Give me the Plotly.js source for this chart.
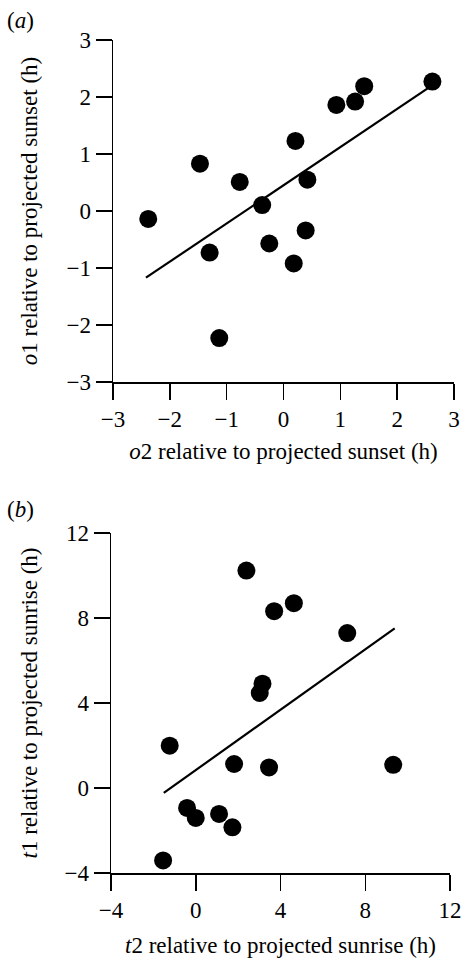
<!DOCTYPE html>
<html>
<head>
<meta charset="utf-8">
<script src="https://cdn.plot.ly/plotly-3.0.1.min.js"></script>
<style>html,body{margin:0;padding:0;background:#fff;}#chart{width:462px;height:958px;}</style>
</head>
<body>
<div id="chart"></div>
<script>
// Panel (a): sunset
const o2 = [-2.38, -1.47, -1.30, -1.13, -0.77, -0.375, -0.25, 0.21, 0.18, 0.42, 0.39, 0.93, 1.26, 1.42, 2.62];
const o1 = [-0.14, 0.83, -0.73, -2.23, 0.51, 0.105, -0.57, 1.23, -0.92, 0.55, -0.34, 1.86, 1.92, 2.19, 2.27];
const fitA_x = [-2.42, 2.55];
const fitA_y = [-1.17, 2.16];
const ticksA = [-3, -2, -1, 0, 1, 2, 3];
const tickLabelsA = ['\u22123', '\u22122', '\u22121', '0', '1', '2', '3'];

// Panel (b): sunrise
const t2 = [2.39, 3.70, 4.63, 7.15, 3.15, 3.02, -1.23, 1.81, 3.46, 9.32, -0.41, 0.0, 1.10, 1.73, -1.54];
const t1 = [10.23, 8.32, 8.70, 7.29, 4.91, 4.47, 1.99, 1.13, 0.97, 1.09, -0.94, -1.41, -1.22, -1.85, -3.41];
const fitB_x = [-1.51, 9.39];
const fitB_y = [-0.23, 7.51];
const ticksB = [-4, 0, 4, 8, 12];
const tickLabelsB = ['\u22124', '0', '4', '8', '12'];

const FONT = 'Liberation Serif';
const FS = 23;
const W = 462, H = 958;

const traces = [
  {x: o2, y: o1, xaxis: 'x', yaxis: 'y', mode: 'markers', type: 'scatter',
   marker: {color: '#000', size: 18, line: {width: 0}}, hoverinfo: 'skip'},
  {x: fitA_x, y: fitA_y, xaxis: 'x', yaxis: 'y', mode: 'lines', type: 'scatter',
   line: {color: '#000', width: 2.2}, hoverinfo: 'skip'},
  {x: t2, y: t1, xaxis: 'x2', yaxis: 'y2', mode: 'markers', type: 'scatter',
   marker: {color: '#000', size: 18, line: {width: 0}}, hoverinfo: 'skip'},
  {x: fitB_x, y: fitB_y, xaxis: 'x2', yaxis: 'y2', mode: 'lines', type: 'scatter',
   line: {color: '#000', width: 2.2}, hoverinfo: 'skip'}
];

function ax(range, vals, labels, domain, anchor, title, standoff) {
  return {
    range: range, domain: domain, anchor: anchor,
    tickmode: 'array', tickvals: vals, ticktext: labels,
    ticks: 'outside', ticklen: 16, tickwidth: 1.5, tickcolor: '#000',
    showline: true, linecolor: '#000', linewidth: 1.5,
    showgrid: false, zeroline: false, fixedrange: true,
    tickfont: {family: FONT, size: FS, color: '#000'},
    title: {text: title, font: {family: FONT, size: FS, color: '#000'}, standoff: standoff},
    automargin: false
  };
}

const layout = {
  width: W, height: H,
  margin: {l: 0, r: 0, t: 0, b: 0},
  paper_bgcolor: '#fff', plot_bgcolor: 'rgba(0,0,0,0)',
  showlegend: false,
  font: {family: FONT, color: '#000'},
  xaxis: ax([-3, 3], ticksA, tickLabelsA, [113/W, 454/W], 'y', '<i>o</i>2 relative to projected sunset (h)', 12),
  yaxis: ax([-3, 3], ticksA, tickLabelsA, [1 - 382/H, 1 - 40/H], 'x', '<i>o</i>1 relative to projected sunset (h)', 22),
  xaxis2: ax([-4, 12], ticksB, tickLabelsB, [111/W, 450/W], 'y2', '<i>t</i>2 relative to projected sunrise (h)', 16),
  yaxis2: ax([-4, 12], ticksB, tickLabelsB, [1 - 873/H, 1 - 533/H], 'x2', '<i>t</i>1 relative to projected sunrise (h)', 20),
  annotations: [
    {text: '(<i>a</i>)', xref: 'paper', yref: 'paper', x: 20/W, y: 1 - 20/H, showarrow: false,
     font: {family: FONT, size: FS, color: '#000'}, xanchor: 'center', yanchor: 'middle'},
    {text: '(<i>b</i>)', xref: 'paper', yref: 'paper', x: 20/W, y: 1 - 510/H, showarrow: false,
     font: {family: FONT, size: FS, color: '#000'}, xanchor: 'center', yanchor: 'middle'}
  ]
};

Plotly.newPlot('chart', traces, layout, {staticPlot: true, displayModeBar: false});
</script>
</body>
</html>
